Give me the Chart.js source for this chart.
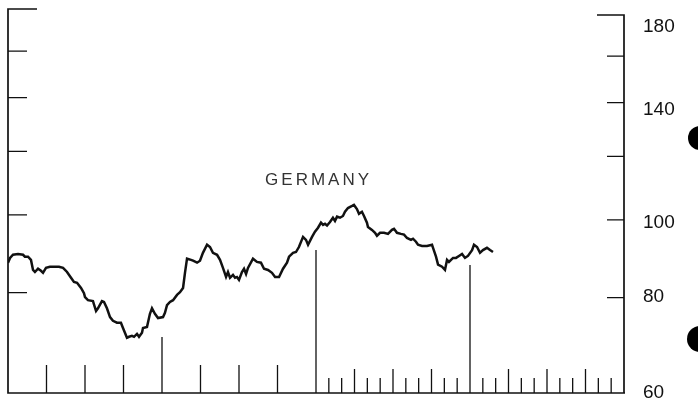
<!DOCTYPE html>
<html>
<head>
<meta charset="utf-8">
<script src="https://cdn.jsdelivr.net/npm/chart.js@4.4.0/dist/chart.umd.min.js"></script>
<style>
html, body { margin: 0; padding: 0; background: #fff; }
#wrap { position: relative; width: 698px; height: 404px; overflow: hidden; }
.hole { position: absolute; background: #000; border-radius: 50%; }
</style>
</head>
<body>
<div id="wrap">
  <canvas id="chart" width="698" height="404"></canvas>
  <div class="hole" style="left:688px;top:126px;width:24px;height:24px"></div>
  <div class="hole" style="left:687px;top:326px;width:26px;height:26px"></div>
</div>
<script>
// time axis: 0-24 = eight years (3 units per year), 24-48 = twenty-four months
const periods = [
  0.00, 0.16, 0.39, 0.78, 1.17, 1.32, 1.56, 1.79, 1.95, 2.10, 2.34, 2.57, 2.73, 2.96,
  3.27, 3.66, 3.97, 4.29, 4.60, 4.91, 5.14, 5.38, 5.69, 5.92, 6.00, 6.23, 6.62, 6.86,
  7.01, 7.32, 7.48, 7.71, 7.95, 8.18, 8.49, 8.80, 8.96, 9.27, 9.43, 9.66, 9.82, 10.05,
  10.21, 10.44, 10.52, 10.83, 11.06, 11.22, 11.45, 11.69, 12.08, 12.23, 12.39, 12.62,
  12.86, 13.17, 13.40, 13.64, 13.79, 13.95, 14.26, 14.42, 14.73, 14.96, 15.19, 15.51,
  15.74, 15.97, 16.29, 16.52, 16.75, 16.99, 17.14, 17.30, 17.53, 17.69, 17.84, 18.00,
  18.23, 18.39, 18.55, 18.70, 19.09, 19.40, 19.71, 19.95, 20.26, 20.57, 20.81, 21.12,
  21.43, 21.74, 21.90, 22.21, 22.44, 22.67, 22.99, 23.22, 23.38, 23.69, 23.92, 24.16,
  24.39, 24.55, 24.70, 24.86, 25.09, 25.32, 25.48, 25.64, 25.87, 26.10, 26.26, 26.49,
  26.81, 26.96, 27.19, 27.35, 27.58, 27.74, 27.97, 28.05, 28.36, 28.60, 28.75, 28.99,
  29.30, 29.61, 29.92, 30.08, 30.31, 30.62, 30.86, 31.09, 31.40, 31.56, 31.79, 31.95,
  32.26, 32.65, 33.04, 33.12, 33.35, 33.51, 33.82, 34.05, 34.21, 34.36, 34.68, 34.91,
  35.14, 35.38, 35.61, 35.84, 36.16, 36.31, 36.55, 36.78, 37.01, 37.32, 37.56, 37.79
];
const index = [
  87.2, 88.4, 89.2, 89.4, 89.2, 88.7, 88.7, 87.9, 85.4, 84.9, 85.7, 85.2, 84.7, 85.9,
  86.2, 86.2, 86.2, 85.9, 84.9, 83.5, 82.5, 82.3, 81.1, 79.9, 79.0, 78.3, 78.1, 75.9,
  76.5, 78.1, 77.9, 76.5, 74.6, 73.8, 73.4, 73.4, 72.3, 70.3, 70.5, 70.7, 70.5, 71.1,
  70.5, 71.3, 72.3, 72.5, 75.3, 76.5, 75.3, 74.4, 74.6, 75.5, 77.2, 77.9,
  78.3, 79.5, 80.1, 81.1, 84.7, 88.2, 87.9, 87.7, 87.2, 87.7, 89.7, 91.8,
  91.2, 89.7, 89.2, 87.9, 85.9, 83.7, 84.9, 83.5, 84.2, 83.5, 83.7, 83.0,
  84.9, 85.7, 84.4, 85.9, 88.2, 87.4, 87.2, 85.7, 85.4, 84.7, 83.7, 83.7,
  85.7, 87.2, 88.7, 89.7, 89.9, 91.2, 93.9, 93.1, 91.8, 93.9, 95.3, 96.4,
  97.8, 97.2, 97.5, 97.0, 98.0, 99.2, 98.3, 99.5, 99.2, 99.7, 100.9, 102.0,
  102.6, 102.9, 101.7, 100.3, 100.9, 99.7, 97.8, 96.6, 95.8, 95.0, 94.2, 95.0,
  95.0, 94.7, 95.8, 96.1, 95.0, 94.7, 94.5, 93.6, 93.1, 93.4, 92.6, 91.8,
  91.5, 91.5, 91.8, 91.0, 88.7, 86.7, 86.2, 85.4, 87.9, 87.4, 88.4, 88.4,
  88.9, 89.4, 88.4, 88.9, 90.4, 91.8, 91.2, 89.7, 90.4, 91.0, 90.4, 89.9
];
const yearTicks = [3, 6, 9, 15, 18, 21];
const markerTicks = [12];
const breakTicks = [24, 36];
const quarterTicks = [27, 30, 33, 39, 42, 45];
const monthTicks = [25, 26, 28, 29, 31, 32, 34, 35, 37, 38, 40, 41, 43, 44, 46, 47];
const leftTicks = [80, 100, 120, 140, 160];
const rightLabels = [60, 80, 100, 140, 180];
const seriesLabel = 'GERMANY';

// frame, inward tick marks and the country label
const framePlugin = {
    id: 'frame',
    afterDatasetsDraw(chart) {
        const { ctx, chartArea: a, scales } = chart;
        const x = scales.x, y = scales.y;
        ctx.save();
        ctx.strokeStyle = '#111';
        ctx.lineWidth = 1.7;
        ctx.beginPath();
        ctx.moveTo(a.left + 29, a.top - 1);
        ctx.lineTo(a.left, a.top - 1);
        ctx.lineTo(a.left, a.bottom);
        ctx.lineTo(a.right + 1, a.bottom);
        ctx.moveTo(a.right, a.bottom);
        ctx.lineTo(a.right, a.top + 5);
        ctx.lineTo(a.right - 27, a.top + 5);
        ctx.stroke();

        ctx.lineWidth = 1.3;
        ctx.beginPath();
        leftTicks.forEach(v => {
            const py = y.getPixelForValue(v);
            ctx.moveTo(a.left, py);
            ctx.lineTo(a.left + 19, py);
            ctx.moveTo(a.right, py + 5);
            ctx.lineTo(a.right - 17, py + 5);
        });
        const up = (list, h) => list.forEach(v => {
            const px = x.getPixelForValue(v);
            ctx.moveTo(px, a.bottom);
            ctx.lineTo(px, a.bottom - h);
        });
        up(yearTicks, 28);
        up(markerTicks, 56);
        up(quarterTicks, 24);
        up(monthTicks, 15);
        up([breakTicks[0]], 143);
        up([breakTicks[1]], 128);
        ctx.stroke();

        ctx.fillStyle = '#333';
        ctx.font = '17px "Liberation Sans"';
        ctx.letterSpacing = '3px';
        ctx.textAlign = 'center';
        ctx.textBaseline = 'alphabetic';
        ctx.fillText(seriesLabel, x.getPixelForValue(24.2), y.getPixelForValue(109));
        ctx.restore();
    }
};

const ctx = document.getElementById('chart').getContext('2d');
const chart = new Chart(ctx, {
    type: 'line',
    data: {
        datasets: [{
            label: seriesLabel,
            data: periods.map((p, i) => ({ x: p, y: index[i] })),
            borderColor: '#111',
            borderWidth: 2.5,
            pointRadius: 0,
            tension: 0,
            fill: false
        }]
    },
    options: {
        responsive: false,
        animation: false,
        events: [],
        layout: { padding: { left: 8, top: 10, bottom: 11, right: 0 } },
        scales: {
            x: { type: 'linear', min: 0, max: 48, display: false },
            y: { type: 'logarithmic', min: 60, max: 180, display: false },
            yR: {
                type: 'logarithmic',
                position: 'right',
                min: 60,
                max: 189,
                grid: { display: false, drawTicks: false },
                border: { display: false },
                afterBuildTicks: s => { s.ticks = rightLabels.map(v => ({ value: v })); },
                afterFit: s => {
                    s.width = 74;
                    s.paddingTop = 0;
                    s.paddingBottom = 0;
                },
                ticks: {
                    autoSkip: false,
                    padding: 19,
                    color: '#111',
                    font: { family: 'Liberation Sans', size: 19 },
                    callback: v => String(v)
                }
            }
        },
        plugins: {
            legend: { display: false },
            tooltip: { enabled: false }
        }
    },
    plugins: [framePlugin]
});
</script>
</body>
</html>
